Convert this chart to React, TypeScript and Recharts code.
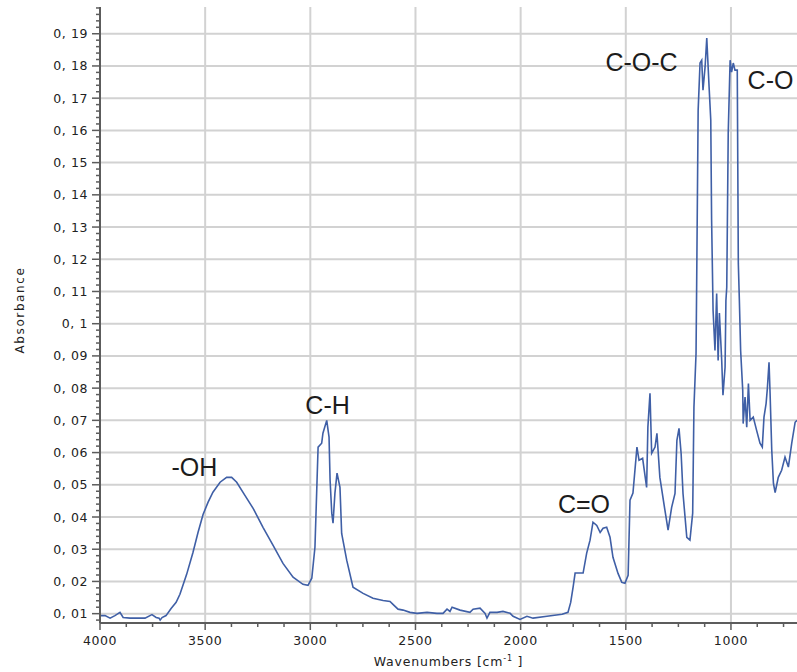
import React from 'react';
import { LineChart, Line, XAxis, YAxis, ReferenceLine, ReferenceDot, Label } from 'recharts';

const wavenumbers = [
  4000, 3976, 3952, 3929, 3905, 3890, 3857, 3824, 3786, 3753, 3733, 3719, 3714, 3705, 3686, 3662, 3638, 3620, 3588,
  3558, 3534, 3510, 3486, 3463, 3429, 3398, 3374, 3350, 3311, 3272, 3225, 3177, 3130, 3082, 3035,
  3011, 2993, 2978, 2968, 2963, 2946, 2940, 2922, 2911, 2906, 2898, 2892, 2883, 2873, 2859, 2851,
  2827, 2797, 2749, 2702, 2654, 2621,
  2607, 2583, 2559, 2526, 2493, 2445, 2398, 2369, 2350, 2336, 2326, 2288, 2241, 2226, 2193, 2169,
  2160, 2146, 2112, 2084, 2050, 2036, 2003, 1970, 1941, 1875, 1803, 1775, 1762, 1750, 1741,
  1703, 1686, 1670, 1656, 1638, 1622, 1608, 1591, 1575, 1561, 1537, 1519, 1504, 1489, 1480, 1466,
  1447, 1437, 1420, 1401, 1395, 1385, 1377, 1361, 1352, 1338, 1314, 1299, 1282, 1266, 1257, 1247,
  1237, 1228, 1210, 1195, 1182, 1176, 1166, 1163, 1156, 1147, 1139, 1133, 1123, 1115, 1113, 1104,
  1096, 1092, 1085, 1076, 1068, 1061, 1055, 1044, 1038, 1028, 1024, 1020, 1013, 1004, 997, 989,
  981, 970, 965, 960, 954, 944, 942, 933, 925, 917, 909, 894, 878, 862, 851, 843,
  833, 827, 819, 814, 806, 798, 790, 775, 759, 743, 727, 711, 695, 686,
];

const absorbance = [
  0.0094, 0.0094, 0.0086, 0.0094, 0.0104, 0.0088, 0.0086, 0.0086, 0.0086, 0.0097, 0.0088, 0.0086, 0.008, 0.0088, 0.0094, 0.0116, 0.0135, 0.016, 0.0222,
  0.029, 0.0352, 0.0408, 0.0446, 0.0477, 0.0508, 0.0523, 0.0523, 0.0508, 0.0467, 0.0427, 0.0368, 0.0312, 0.0256, 0.0213, 0.0191,
  0.0188, 0.021, 0.0306, 0.0514, 0.0617, 0.0629, 0.066, 0.07, 0.0648, 0.0514, 0.0412, 0.0381, 0.0474, 0.0536, 0.0492, 0.0349,
  0.0266, 0.0182, 0.0163, 0.0148, 0.0141, 0.0138,
  0.0129, 0.0114, 0.0111, 0.0104, 0.0101, 0.0104, 0.0101, 0.0101, 0.0114, 0.0107, 0.012, 0.0111, 0.0104, 0.0114, 0.0117, 0.0101,
  0.0086, 0.0104, 0.0104, 0.0107, 0.0101, 0.0092, 0.0082, 0.0092, 0.0086, 0.0092, 0.0098, 0.0104, 0.0135, 0.0185, 0.0226,
  0.0226, 0.0288, 0.0328, 0.0384, 0.0374, 0.0352, 0.0365, 0.0368, 0.0337, 0.0275, 0.0225, 0.0197, 0.0194, 0.0219, 0.0452, 0.0474,
  0.0617, 0.0576, 0.0582, 0.0492, 0.0679, 0.0784, 0.0598, 0.0617, 0.066, 0.0523, 0.0421, 0.0359, 0.043, 0.0473, 0.0638, 0.0675,
  0.0598, 0.0473, 0.0337, 0.0328, 0.0412, 0.0741, 0.0908, 0.1126, 0.1663, 0.1809, 0.1818, 0.1725, 0.1797, 0.1887, 0.1859, 0.1735,
  0.1632, 0.1322, 0.1041, 0.0917, 0.1094, 0.0886, 0.1033, 0.0886, 0.0778, 0.0865, 0.1072, 0.1113, 0.1591, 0.1818, 0.1781, 0.1809,
  0.1787, 0.1787, 0.1188, 0.1072, 0.0917, 0.0793, 0.069, 0.0772, 0.0679, 0.0814, 0.07, 0.071, 0.0669, 0.0629, 0.0617, 0.071,
  0.0752, 0.0799, 0.088, 0.0784, 0.0607, 0.0504, 0.0476, 0.0523, 0.0545, 0.0586, 0.0555, 0.0629, 0.0694, 0.07,
];

const xMajorTicks = [4000, 3500, 3000, 2500, 2000, 1500, 1000];
const yMajorTicks = [0.01, 0.02, 0.03, 0.04, 0.05, 0.06, 0.07, 0.08, 0.09, 0.1, 0.11, 0.12, 0.13, 0.14, 0.15, 0.16, 0.17, 0.18, 0.19];

const annotationTexts = ['C-O-C', 'C-O', 'C-H', '-OH', 'C=O'];
const annotationWn = [1425, 812, 2918, 3551, 1699];
const annotationAbs = [0.1812, 0.1756, 0.0747, 0.0556, 0.0439];

const X_DOMAIN: [number, number] = [686, 4000];
const Y_DOMAIN: [number, number] = [0.0071, 0.1983];

const n = Math.min(wavenumbers.length, absorbance.length);
const data = wavenumbers.slice(0, n).map((wn, i) => ({ wn, abs: absorbance[i] }));

// minor tick positions (every 125 cm-1 and every 0.002)
const xTicks: number[] = [];
for (let v = 4000; v >= 750; v -= 125) xTicks.push(v);
const yTicks: number[] = [];
for (let k = 4; k <= 99; k++) yTicks.push(+(k * 0.002).toFixed(3));

const AXIS_COLOR = '#5c5c5c';
const GRID_COLOR = '#d2d2d2';
const LINE_COLOR = '#3f5fa6';
const TICK_FONT = "'DejaVu Sans', Verdana, sans-serif";
const ANNOT_FONT = "'Liberation Sans', Arial, sans-serif";

const isYMajor = (v: number) => yMajorTicks.some((m) => Math.abs(m - v) < 1e-6);
const isXMajor = (v: number) => xMajorTicks.includes(v);

const formatY = (v: number) => {
  const s = v.toFixed(2).replace(/0$/, '');
  const [a, b] = s.split('.');
  return `${a}, ${b}`;
};

const renderYTick = (props: any) => {
  const { x, y, payload } = props;
  const major = isYMajor(payload.value);
  return (
    <g>
      <line x1={x - (major ? 8 : 4)} x2={x} y1={y} y2={y} stroke={AXIS_COLOR} strokeWidth={1.5} />
      {major && (
        <text x={x - 12} y={y} dy="0.36em" textAnchor="end" fontFamily={TICK_FONT} fontSize={12.5} letterSpacing={0.6} fill="#222">
          {formatY(payload.value)}
        </text>
      )}
    </g>
  );
};

const renderXTick = (props: any) => {
  const { x, y, payload } = props;
  const major = isXMajor(payload.value);
  return (
    <g>
      <line x1={x} x2={x} y1={y} y2={y + (major ? 7 : 4)} stroke={AXIS_COLOR} strokeWidth={1.5} />
      {major && (
        <text x={x} y={y + 17} dy="0.36em" textAnchor="middle" fontFamily={TICK_FONT} fontSize={12.5} letterSpacing={0.6} fill="#222">
          {payload.value}
        </text>
      )}
    </g>
  );
};

const XTitle = (props: any) => {
  const { viewBox } = props;
  const cx = viewBox.x + viewBox.width / 2;
  const cy = viewBox.y + 38;
  return (
    <text x={cx} y={cy} dy="0.36em" textAnchor="middle" fontFamily={TICK_FONT} fontSize={12.5} letterSpacing={0.8} fill="#222">
      Wavenumbers [cm
      <tspan fontSize={8} dy="-0.6em">-1</tspan>
      <tspan dy="0.45em"> ]</tspan>
    </text>
  );
};

const YTitle = (props: any) => {
  const { viewBox } = props;
  const cx = 20;
  const cy = viewBox.y + viewBox.height / 2 - 5;
  return (
    <text x={cx} y={cy} dy="0.36em" textAnchor="middle" transform={`rotate(-90, ${cx}, ${cy})`} fontFamily={TICK_FONT} fontSize={12} letterSpacing={1.6} fill="#222">
      Absorbance
    </text>
  );
};

const makeAnnotation = (text: string) => (props: any) => {
  const { viewBox } = props;
  return (
    <text x={viewBox.x} y={viewBox.y} dy="0.36em" textAnchor="middle" fontFamily={ANNOT_FONT} fontSize={25} fill="#1c1c1c">
      {text}
    </text>
  );
};

export default function App() {
  return (
    <div style={{ position: 'absolute', left: 0, top: 0, width: 797, height: 672, background: '#fff' }}>
      <LineChart width={797} height={672} data={data} margin={{ top: 7, right: 0, bottom: 0, left: 0 }}>
        {xMajorTicks.slice(1).map((v) => (
          <ReferenceLine key={`gx${v}`} x={v} stroke={GRID_COLOR} strokeWidth={2} zIndex={-50} />
        ))}
        {yMajorTicks.map((v) => (
          <ReferenceLine key={`gy${v}`} y={v} stroke={GRID_COLOR} strokeWidth={2} zIndex={-50} />
        ))}
        <XAxis
          dataKey="wn"
          type="number"
          domain={X_DOMAIN}
          reversed
          allowDataOverflow
          ticks={xTicks}
          interval={0}
          tick={renderXTick}
          tickLine={false}
          tickSize={0}
          tickMargin={0}
          height={49}
          axisLine={{ stroke: AXIS_COLOR, strokeWidth: 2 }}
        >
          <Label content={XTitle} />
        </XAxis>
        <YAxis
          type="number"
          domain={Y_DOMAIN}
          allowDataOverflow
          ticks={yTicks}
          interval={0}
          tick={renderYTick}
          tickLine={false}
          tickSize={0}
          tickMargin={0}
          width={100}
          axisLine={{ stroke: AXIS_COLOR, strokeWidth: 2 }}
        >
          <Label content={YTitle} />
        </YAxis>
        <Line
          type="linear"
          dataKey="abs"
          stroke={LINE_COLOR}
          strokeWidth={1.6}
          dot={false}
          isAnimationActive={false}
        />
        {annotationTexts.map((t, i) => (
          <ReferenceDot
            key={t}
            x={annotationWn[i]}
            y={annotationAbs[i]}
            r={0}
            fill="none"
            stroke="none"
            ifOverflow="visible"
            label={makeAnnotation(t)}
          />
        ))}
      </LineChart>
    </div>
  );
}
